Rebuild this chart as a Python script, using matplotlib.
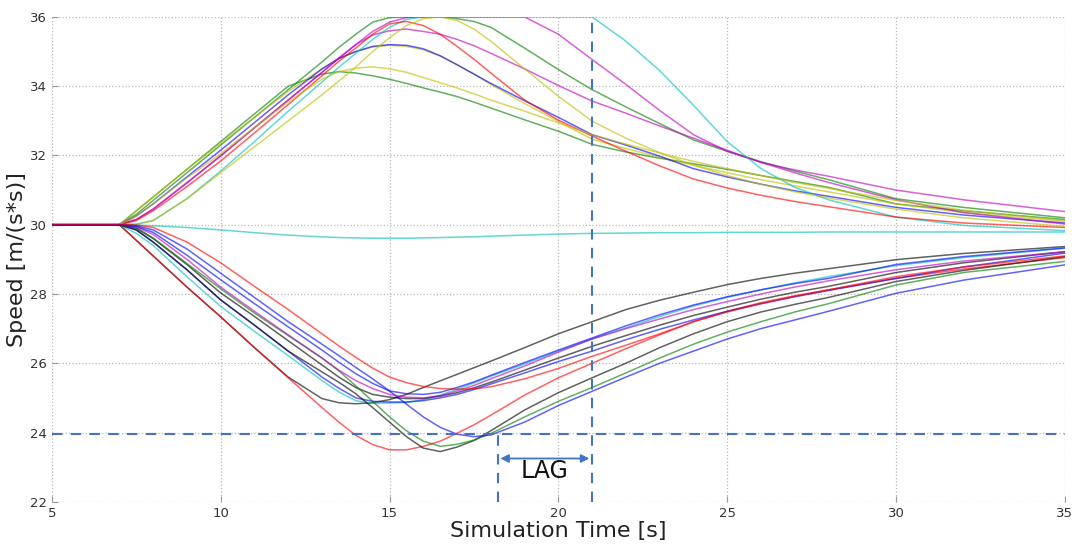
import matplotlib
matplotlib.use("Agg")
import matplotlib.pyplot as plt

# 时间轴 [s]
time_s = [5, 6, 7, 7.5, 8, 9, 10, 11, 12, 13, 13.5, 14, 14.5, 15, 15.5, 16, 16.5, 17, 17.5, 18, 19, 20,
          21, 22, 23, 24, 25, 26, 27, 28, 30, 32, 35]

# 加速的车 (上半部分)
up_green_1 = [30, 30, 30, 30.3, 30.7, 31.5, 32.3, 33.1, 33.9, 34.7, 35.12, 35.5, 35.85, 35.98, 36, 36, 36, 35.95,
              35.87, 35.7, 35.1, 34.48, 33.9, 33.4, 32.92, 32.45, 32.12, 31.82, 31.55, 31.3, 30.75, 30.5, 30.2]
up_green_2 = [30, 30, 30, 30.4, 30.8, 31.6, 32.4, 33.2, 34.0, 34.35, 34.42, 34.38, 34.3, 34.2, 34.08, 33.95, 33.83,
              33.7, 33.54, 33.37, 33.03, 32.7, 32.32, 32.1, 31.92, 31.76, 31.6, 31.42, 31.25, 31.08, 30.6, 30.4, 30.15]
up_yellow_3 = [30, 30, 30, 30.4, 30.8, 31.6, 32.35, 33.1, 33.85, 34.5, 34.8, 35.0, 35.13, 35.18, 35.15, 35.05, 34.87,
               34.62, 34.35, 34.05, 33.5, 32.98, 32.47, 32.2, 31.95, 31.72, 31.5, 31.3, 31.12, 30.95, 30.6, 30.35, 30.1]
up_blue_1 = [30, 30, 30, 30.25, 30.6, 31.38, 32.15, 32.95, 33.75, 34.5, 34.8, 35.0, 35.15, 35.2, 35.18, 35.08, 34.88,
             34.62, 34.35, 34.08, 33.58, 33.1, 32.6, 32.3, 31.98, 31.62, 31.38, 31.17, 30.98, 30.82, 30.5, 30.28, 30.05]
up_magenta_1 = [30, 30, 30, 30.15, 30.45, 31.2, 32.0, 32.8, 33.6, 34.4, 34.8, 35.2, 35.58, 35.85, 35.98, 36, 36, 36,
                36, 36, 36, 35.5, 34.77, 34.05, 33.3, 32.6, 32.12, 31.8, 31.58, 31.4, 31.0, 30.72, 30.38]
up_magenta_2 = [30, 30, 30, 30.15, 30.45, 31.22, 31.98, 32.8, 33.6, 34.4, 34.82, 35.2, 35.48, 35.6, 35.65, 35.58, 35.5,
                35.35, 35.17, 34.95, 34.5, 34.02, 33.57, 33.22, 32.85, 32.5, 32.15, 31.8, 31.5, 31.22, 30.72, 30.35, 30.02]
up_cyan_1 = [30, 30, 30, 30.02, 30.12, 30.75, 31.55, 32.4, 33.28, 34.12, 34.55, 34.95, 35.35, 35.7, 35.93, 36, 36, 36,
             36, 36, 36, 36, 36, 35.3, 34.45, 33.45, 32.4, 31.62, 31.08, 30.72, 30.22, 29.98, 29.83]
up_red_1 = [30, 30, 30, 30.12, 30.4, 31.1, 31.84, 32.65, 33.47, 34.3, 34.72, 35.1, 35.5, 35.8, 35.87, 35.75, 35.5,
            35.15, 34.78, 34.38, 33.6, 33.02, 32.56, 32.12, 31.7, 31.32, 31.06, 30.85, 30.67, 30.52, 30.22, 30.05, 29.92]
up_yellow_1 = [30, 30, 30, 30, 30.12, 30.75, 31.5, 32.25, 33.0, 33.75, 34.15, 34.55, 35.0, 35.4, 35.75, 35.95, 36.0,
               35.9, 35.65, 35.3, 34.5, 33.71, 32.99, 32.5, 32.08, 31.72, 31.42, 31.17, 30.95, 30.77, 30.45, 30.2, 29.95]
up_yellow_2 = [30, 30, 30, 30.25, 30.6, 31.35, 32.05, 32.8, 33.55, 34.2, 34.42, 34.52, 34.56, 34.5, 34.4, 34.25, 34.1,
               33.95, 33.78, 33.6, 33.28, 32.94, 32.6, 32.33, 32.07, 31.83, 31.62, 31.42, 31.22, 31.05, 30.7, 30.42, 30.12]

# 几乎不变的车
flat_cyan = [30, 30, 30, 29.99, 29.97, 29.92, 29.85, 29.77, 29.7, 29.65, 29.63, 29.62, 29.61, 29.61, 29.61, 29.62,
             29.63, 29.64, 29.65, 29.67, 29.7, 29.73, 29.75, 29.76, 29.77, 29.77, 29.78, 29.78, 29.78, 29.79, 29.79,
             29.79, 29.79]

# 减速的车 (下半部分)
low_black_1 = [30, 30, 30, 29.55, 29.1, 28.2, 27.34, 26.45, 25.6, 24.98, 24.86, 24.83, 24.86, 24.95, 25.1, 25.3, 25.49,
               25.68, 25.87, 26.06, 26.45, 26.85, 27.2, 27.55, 27.82, 28.05, 28.27, 28.45, 28.6, 28.73, 28.99, 29.17,
               29.37]
low_red_1 = [30, 30, 30, 29.55, 29.1, 28.2, 27.34, 26.45, 25.58, 24.72, 24.3, 23.92, 23.65, 23.5, 23.5, 23.6, 23.75,
             23.98, 24.22, 24.5, 25.08, 25.58, 26.0, 26.42, 26.82, 27.2, 27.5, 27.75, 27.95, 28.12, 28.45, 28.72, 29.05]
low_cyan = [30, 30, 30, 29.75, 29.4, 28.5, 27.64, 26.92, 26.22, 25.5, 25.17, 24.92, 24.84, 24.85, 24.87, 24.95, 25.08,
            25.25, 25.43, 25.62, 25.98, 26.35, 26.7, 27.02, 27.35, 27.65, 27.9, 28.12, 28.32, 28.5, 28.82, 29.05, 29.32]
low_black_2 = [30, 30, 30, 29.9, 29.6, 28.85, 28.03, 27.35, 26.65, 25.95, 25.6, 25.3, 25.1, 25.02, 24.98, 24.98, 25.05,
               25.15, 25.29, 25.45, 25.8, 26.15, 26.49, 26.8, 27.1, 27.38, 27.62, 27.85, 28.05, 28.22, 28.62, 28.9,
               29.22]
low_blue_1 = [30, 30, 30, 29.85, 29.5, 28.7, 27.83, 27.1, 26.35, 25.6, 25.28, 25.0, 24.9, 24.88, 24.88, 24.92, 25.0,
              25.1, 25.24, 25.4, 25.72, 26.05, 26.35, 26.68, 26.98, 27.25, 27.5, 27.72, 27.92, 28.1, 28.45, 28.78, 29.18]
low_black_3 = [30, 30, 30, 29.85, 29.5, 28.7, 27.83, 27.1, 26.35, 25.75, 25.45, 25.12, 24.72, 24.3, 23.88, 23.55,
               23.45, 23.58, 23.77, 24.05, 24.65, 25.15, 25.58, 26.0, 26.45, 26.85, 27.2, 27.48, 27.7, 27.9, 28.36,
               28.68, 29.08]
low_green = [30, 30, 30, 29.9, 29.62, 28.88, 28.15, 27.45, 26.8, 26.15, 25.78, 25.35, 24.9, 24.45, 24.05, 23.75, 23.6,
             23.66, 23.78, 23.97, 24.45, 24.9, 25.3, 25.72, 26.15, 26.55, 26.9, 27.2, 27.48, 27.72, 28.26, 28.62, 28.94]
low_blue_2 = [30, 30, 30, 29.97, 29.85, 29.3, 28.6, 27.9, 27.2, 26.55, 26.22, 25.88, 25.55, 25.2, 24.82, 24.45, 24.15,
              23.95, 23.88, 23.93, 24.3, 24.78, 25.19, 25.6, 26.0, 26.35, 26.7, 27.0, 27.25, 27.5, 28.02, 28.4, 28.84]
low_magenta = [30, 30, 30, 29.93, 29.72, 29.0, 28.2, 27.5, 26.82, 26.15, 25.8, 25.5, 25.27, 25.1, 25.02, 25.0, 25.06,
               25.2, 25.36, 25.55, 25.92, 26.32, 26.7, 27.0, 27.28, 27.55, 27.78, 28.0, 28.2, 28.38, 28.7, 28.95, 29.22]
low_blue_3 = [30, 30, 30, 29.95, 29.78, 29.12, 28.41, 27.72, 27.05, 26.38, 26.03, 25.7, 25.42, 25.2, 25.12, 25.1, 25.16,
              25.3, 25.46, 25.65, 26.02, 26.38, 26.73, 27.08, 27.4, 27.68, 27.92, 28.12, 28.3, 28.45, 28.85, 29.08,
              29.33]
low_red_2 = [30, 30, 30, 29.99, 29.92, 29.5, 28.9, 28.22, 27.55, 26.85, 26.5, 26.17, 25.86, 25.6, 25.44, 25.33, 25.27,
             25.25, 25.26, 25.32, 25.55, 25.85, 26.2, 26.52, 26.85, 27.2, 27.48, 27.72, 27.93, 28.12, 28.5, 28.78, 29.1]

# 标记线
lag_level = 23.95
lag_start = 18.2
lag_end = 21.0

curves = [
    (up_green_1, 'g'), (up_green_2, 'g'), (up_yellow_3, 'y'), (up_blue_1, 'b'),
    (up_magenta_1, 'm'), (up_magenta_2, 'm'), (up_cyan_1, 'c'), (up_red_1, 'r'),
    (up_yellow_1, 'y'), (up_yellow_2, 'y'), (flat_cyan, 'c'),
    (low_black_1, 'k'), (low_red_1, 'r'), (low_cyan, 'c'), (low_black_2, 'k'),
    (low_blue_1, 'b'), (low_black_3, 'k'), (low_green, 'g'), (low_blue_2, 'b'),
    (low_magenta, 'm'), (low_blue_3, 'b'), (low_red_2, 'r'),
]
colors = {'b': (0, 0, 1), 'g': (0, 0.5, 0), 'r': (1, 0, 0), 'c': (0, 0.75, 0.75),
          'm': (0.75, 0, 0.75), 'y': (0.75, 0.75, 0), 'k': (0, 0, 0)}

fig = plt.figure(figsize=(10.8, 5.46), dpi=100)
ax = fig.add_axes([0.048, 0.081, 0.938, 0.888])

for values, c in curves:
    ax.plot(time_s, values, color=colors[c], lw=1.1, alpha=0.62)

dash_color = '#4472C4'
ax.axhline(lag_level, color=dash_color, ls='--', lw=1.5, dashes=(5, 4))
ax.plot([lag_end, lag_end], [22, 36], color=dash_color, ls='--', lw=1.5, dashes=(5, 4))
ax.plot([lag_start, lag_start], [22, lag_level], color=dash_color, ls='--', lw=1.5, dashes=(5, 4))
ax.annotate('', xy=(lag_start, 23.25), xytext=(lag_end, 23.25),
            arrowprops=dict(arrowstyle='<|-|>', color=dash_color, lw=1.3, mutation_scale=12))
ax.text((lag_start + lag_end) / 2, 22.9, 'LAG', ha='center', va='center', fontsize=17, color='#111111')

ax.set_xlim(5, 35)
ax.set_ylim(22, 36)
ax.set_xticks([5, 10, 15, 20, 25, 30, 35])
ax.set_yticks([22, 24, 26, 28, 30, 32, 34, 36])
ax.grid(True, ls=':', color='#b8b8b8', lw=0.9)
for s in ax.spines.values():
    s.set_visible(False)
ax.tick_params(direction='in', length=4, color='#999999', labelsize=9.5, labelcolor='#333333')
ax.set_xlabel('Simulation Time [s]', fontsize=16, color='#222222', labelpad=1)
ax.set_ylabel('Speed [m/(s*s)]', fontsize=16, color='#222222', labelpad=2)

fig.savefig('out.png', dpi=100)
